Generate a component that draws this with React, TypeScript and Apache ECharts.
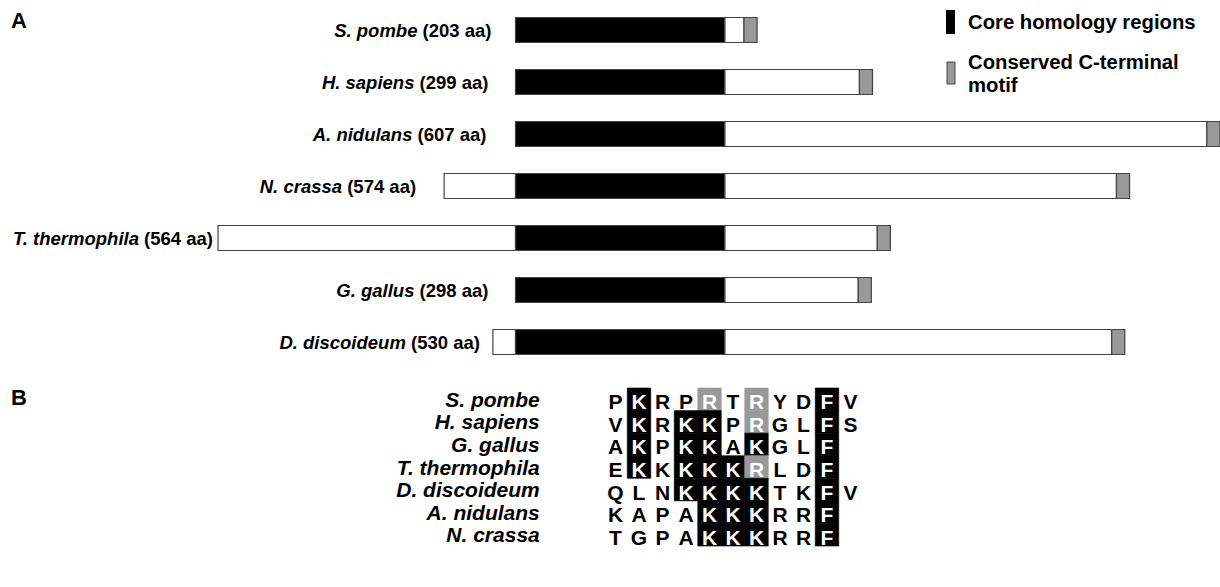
import React, { useEffect, useRef } from "react";
import * as echarts from "echarts";

// ---------- Panel A data ----------
const speciesA = ["S. pombe", "H. sapiens", "A. nidulans", "N. crassa", "T. thermophila", "G. gallus", "D. discoideum"];
const lengthsAa = [203, 299, 607, 574, 564, 298, 530];
// segment boundaries (residues, relative to start of the core region, as drawn)
const nTermStart = [0, 0, 0, -60, -250, 0, -19];
const coreEnd = [176, 176, 176, 176, 176, 176, 176];
const motifStart = [192, 289, 581, 505, 304, 288, 501];
const motifEnd = [203, 300, 592, 516, 315, 299, 512];

// ---------- Panel B data ----------
const speciesB = ["S. pombe", "H. sapiens", "G. gallus", "T. thermophila", "D. discoideum", "A. nidulans", "N. crassa"];
const sequences = ["PKRPRTRYDFV", "VKRKKPRGLFS", "AKPKKAKGLF", "EKKKKKRLDF", "QLNKKKKTKFV", "KAPAKKKRRF", "TGPAKKKRRF"];
// 0 = none, 1 = identical (black), 2 = similar (grey)
const shading = ["01002020010", "01011020010", "0101101001", "0101112001", "00011110010", "0000111001", "0000111001"];
const columns = ["1", "2", "3", "4", "5", "6", "7", "8", "9", "10", "11"];

// ---------- layout ----------
const labelGap = [24, 27, 29, 28, 5, 27, 13];
const FONT = "'Liberation Sans', Arial, Helvetica, sans-serif";
const GREY = "#999999";
const EDGE = "#444444";

export default function App() {
  const ref = useRef<HTMLDivElement>(null);
  useEffect(() => {
    if (!ref.current) return;
    const chart = echarts.init(ref.current, undefined, { renderer: "svg" });

    const segData: any[] = [];
    speciesA.forEach((_, i) => {
      if (nTermStart[i] < 0) segData.push([i, nTermStart[i], 0, 0]);
      segData.push([i, 0, coreEnd[i], 1]);
      segData.push([i, coreEnd[i], motifStart[i], 0]);
      segData.push([i, motifStart[i], motifEnd[i], 2]);
    });
    const labelData = speciesA.map((_, i) => [i, nTermStart[i]]);

    const cellData: any[] = [];
    sequences.forEach((seq, r) => {
      seq.split("").forEach((ch, c) => {
        cellData.push([c, r, ch, Number(shading[r][c])]);
      });
    });

    chart.setOption({
      animation: false,
      backgroundColor: "#ffffff",
      textStyle: { fontFamily: FONT },
      grid: [
        { left: 218, right: 0, top: 4, height: 364 },
        { left: 603.75, width: 258.5, top: 388, height: 158 },
      ],
      xAxis: [
        { type: "value", gridIndex: 0, min: -250, max: 592, show: false },
        { type: "category", gridIndex: 1, data: columns, show: false },
      ],
      yAxis: [
        { type: "category", gridIndex: 0, data: speciesA, inverse: true, show: false },
        {
          type: "category",
          gridIndex: 1,
          data: speciesB,
          inverse: true,
          axisLine: { show: false },
          axisTick: { show: false },
          splitLine: { show: false },
          axisLabel: {
            interval: 0,
            margin: 64,
            padding: [5, 0, 0, 0],
            fontSize: 21,
            lineHeight: 17,
            fontWeight: "bold",
            fontStyle: "italic",
            color: "#000",
            fontFamily: FONT,
          },
        },
      ],
      series: [
        {
          type: "custom",
          xAxisIndex: 0,
          yAxisIndex: 0,
          encode: { x: [1, 2], y: 0 },
          data: segData,
          renderItem: (params: any, api: any) => {
            const row = api.value(0);
            const p0 = api.coord([api.value(1), row]);
            const p1 = api.coord([api.value(2), row]);
            const kind = api.value(3);
            const h = 25;
            return {
              type: "rect",
              shape: { x: p0[0], y: p0[1] - h / 2, width: p1[0] - p0[0], height: h },
              style: {
                fill: kind === 1 ? "#000" : kind === 2 ? GREY : "#fff",
                stroke: EDGE,
                lineWidth: 1.2,
              },
            };
          },
        },
        {
          type: "custom",
          xAxisIndex: 0,
          yAxisIndex: 0,
          encode: { x: 1, y: 0 },
          data: labelData,
          renderItem: (params: any, api: any) => {
            const row = api.value(0);
            const p = api.coord([api.value(1), row]);
            return {
              type: "text",
              style: {
                text: `{sp|${speciesA[row]}}{aa| (${lengthsAa[row]} aa)}`,
                x: p[0] - labelGap[row],
                y: p[1],
                align: "right",
                verticalAlign: "middle",
                rich: {
                  sp: { fontSize: 18.5, fontWeight: "bold", fontStyle: "italic", fontFamily: FONT, fill: "#000" },
                  aa: { fontSize: 18.5, fontWeight: "bold", fontFamily: FONT, fill: "#000" },
                },
              },
            };
          },
        },
        {
          type: "custom",
          xAxisIndex: 1,
          yAxisIndex: 1,
          encode: { x: 0, y: 1 },
          data: cellData,
          renderItem: (params: any, api: any) => {
            const c = api.coord([api.value(0), api.value(1)]);
            const size = api.size([1, 1]);
            const d = cellData[params.dataIndex];
            const shade = d[3];
            const children: any[] = [];
            if (shade > 0) {
              children.push({
                type: "rect",
                shape: { x: c[0] - size[0] / 2, y: c[1] - size[1] / 2, width: size[0], height: size[1] },
                style: { fill: shade === 1 ? "#000" : GREY, stroke: shade === 1 ? "#000" : GREY, lineWidth: 0.6 },
              });
            }
            children.push({
              type: "text",
              style: {
                text: d[2],
                x: c[0],
                y: c[1] + 2.5,
                align: "center",
                verticalAlign: "middle",
                fontSize: 21,
                lineHeight: 17,
                fontWeight: "bold",
                fontFamily: FONT,
                fill: shade > 0 ? "#fff" : "#000",
              },
            });
            return { type: "group", children };
          },
        },
      ],
      graphic: [
        { type: "text", left: 11, top: 9, style: { text: "A", fontSize: 22, fontWeight: "bold", fontFamily: FONT, fill: "#000" } },
        { type: "text", left: 11, top: 386, style: { text: "B", fontSize: 22, fontWeight: "bold", fontFamily: FONT, fill: "#000" } },
        { type: "rect", shape: { x: 946, y: 10, width: 9, height: 24 }, style: { fill: "#000" } },
        { type: "text", x: 968, y: 22, style: { text: "Core homology regions", fontSize: 20.3, fontWeight: "bold", fontFamily: FONT, fill: "#000", verticalAlign: "middle" } },
        { type: "rect", shape: { x: 947, y: 62, width: 8, height: 22 }, style: { fill: GREY, stroke: EDGE, lineWidth: 1 } },
        { type: "text", x: 968, y: 62, style: { text: "Conserved C-terminal", fontSize: 20.3, fontWeight: "bold", fontFamily: FONT, fill: "#000", verticalAlign: "middle" } },
        { type: "text", x: 968, y: 85, style: { text: "motif", fontSize: 20.3, fontWeight: "bold", fontFamily: FONT, fill: "#000", verticalAlign: "middle" } },
      ],
    });
    return () => chart.dispose();
  }, []);
  return <div ref={ref} style={{ position: "absolute", left: 0, top: 0, width: 1220, height: 587 }} />;
}
